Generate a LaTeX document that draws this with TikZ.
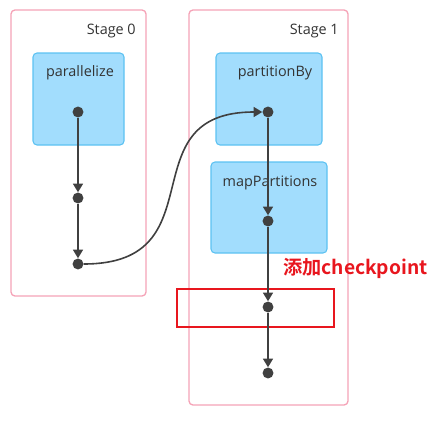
\documentclass[tikz,border=0pt]{standalone}
\usepackage{fontspec}
\setmainfont{Open Sans}
\newfontfamily\cjkbold[BoldFont={Noto Sans CJK SC Bold}]{Noto Sans CJK SC}
\usetikzlibrary{arrows.meta}
\definecolor{stagepink}{HTML}{F5A3B7}
\definecolor{opfill}{HTML}{A2DDFD}
\definecolor{opdraw}{HTML}{5CC2F2}
\definecolor{edgegray}{HTML}{404040}
\definecolor{markred}{HTML}{E8161E}
\definecolor{txtgray}{HTML}{333333}
\tikzset{
  x=0.75pt, y=-0.75pt,
  stagebox/.style={draw=stagepink, line width=1pt, rounded corners=3pt},
  opbox/.style={draw=opdraw, fill=opfill, line width=0.8pt, rounded corners=3pt},
  dotnode/.style={circle, fill=edgegray, inner sep=0pt, minimum size=8.2pt},
  flow/.style={draw=edgegray, line width=1.2pt, -{Triangle[width=7.5pt,length=6.5pt]}},
  lbl/.style={font=\fontsize{10.8}{12}\selectfont, text=txtgray, inner sep=0pt},
}
\begin{document}
\begin{tikzpicture}
\useasboundingbox (0,0) rectangle (441,432);
% stages
\draw[stagebox] (11,10) rectangle (146,296);
\draw[stagebox] (189,10) rectangle (348,405);
\node[lbl, anchor=east] (s0) at (136,31) {Stage 0};
\node[lbl, anchor=east] (s1) at (339,31) {Stage 1};
% operator boxes
\draw[opbox] (33,53) rectangle (124,145);
\draw[opbox] (216,53) rectangle (322,145);
\draw[opbox] (211,162) rectangle (327,253);
\node[lbl] (tp) at (80,73) {parallelize};
\node[lbl] (tb) at (275,73) {partitionBy};
\node[lbl] (tm) at (270,183) {mapPartitions};
% checkpoint marker
\draw[draw=markred, line width=1.1pt] (177,289) rectangle (334,327);
\node[font=\cjkbold\bfseries\fontsize{14.4}{16}\selectfont, text=markred, anchor=west, inner sep=0pt] (ck) at (283,268) {添加checkpoint};
% dots
\node[dotnode] (a1) at (78,112) {};
\node[dotnode] (a2) at (78,198) {};
\node[dotnode] (a3) at (78,264) {};
\node[dotnode] (b1) at (268,112) {};
\node[dotnode] (b2) at (268,221) {};
\node[dotnode] (b3) at (268,307) {};
\node[dotnode] (b4) at (268,373) {};
% connectors
\draw[flow] (a1) -- (a2);
\draw[flow] (a2) -- (a3);
\draw[flow] (a3.east) .. controls (220,264) and (126,112) .. (b1.west);
\draw[flow] (b1) -- (b2);
\draw[flow] (b2) -- (b3);
\draw[flow] (b3) -- (b4);
\end{tikzpicture}
\end{document}
